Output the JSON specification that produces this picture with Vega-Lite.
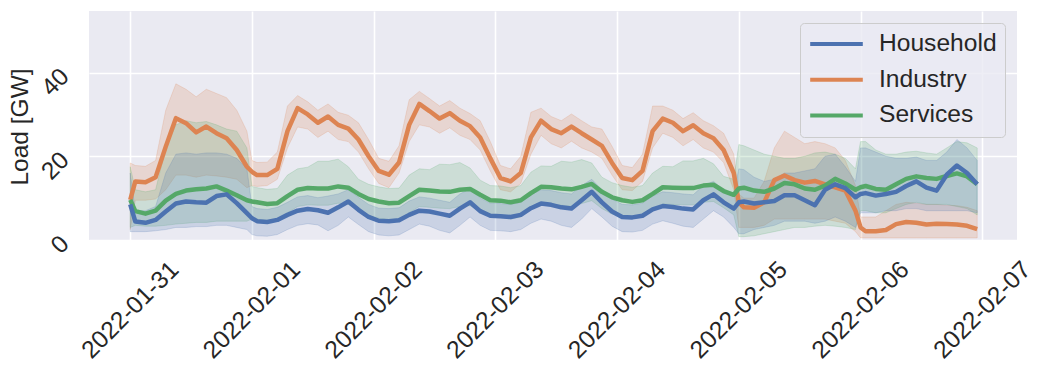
{
  "$schema": "https://vega.github.io/schema/vega-lite/v6.json",
  "width": 928,
  "height": 229,
  "autosize": {"type": "none"},
  "padding": {"left": 89, "top": 11, "right": 26, "bottom": 131},
  "background": "white",
  "config": {
    "view": {"fill": "#EAEAF2", "stroke": null},
    "font": "Liberation Sans",
    "axis": {
      "domain": false, "ticks": false, "grid": true, "gridColor": "#FFFFFF", "gridWidth": 1.6,
      "labelFont": "Liberation Sans", "labelFontSize": 24.5, "labelColor": "#262626",
      "titleFont": "Liberation Sans", "titleFontSize": 24.5, "titleColor": "#262626", "titleFontWeight": "normal"
    },
    "legend": {"labelFont": "Liberation Sans", "labelFontSize": 24.6, "labelColor": "#262626"}
  },
  "data": {"values": [
    {"t":"2022-01-31T00:00","s":"Industry","v":9.6,"lo":2.5,"hi":18.4},
    {"t":"2022-01-31T01:00","s":"Industry","v":14.0,"lo":9.5,"hi":17.8},
    {"t":"2022-01-31T03:00","s":"Industry","v":13.8,"lo":9.5,"hi":17.6},
    {"t":"2022-01-31T05:00","s":"Industry","v":15.0,"lo":9.8,"hi":19.0},
    {"t":"2022-01-31T07:00","s":"Industry","v":22.3,"lo":12.0,"hi":31.0},
    {"t":"2022-01-31T09:00","s":"Industry","v":29.1,"lo":15.5,"hi":37.3},
    {"t":"2022-01-31T11:00","s":"Industry","v":27.9,"lo":15.5,"hi":36.0},
    {"t":"2022-01-31T13:00","s":"Industry","v":25.7,"lo":15.0,"hi":34.2},
    {"t":"2022-01-31T15:00","s":"Industry","v":27.1,"lo":15.5,"hi":36.0},
    {"t":"2022-01-31T17:00","s":"Industry","v":25.5,"lo":15.3,"hi":35.0},
    {"t":"2022-01-31T19:00","s":"Industry","v":24.3,"lo":15.0,"hi":34.0},
    {"t":"2022-01-31T21:00","s":"Industry","v":21.5,"lo":14.5,"hi":31.0},
    {"t":"2022-01-31T23:00","s":"Industry","v":17.5,"lo":12.5,"hi":26.0},
    {"t":"2022-02-01T00:00","s":"Industry","v":16.3,"lo":13.0,"hi":19.0},
    {"t":"2022-02-01T01:00","s":"Industry","v":15.5,"lo":12.8,"hi":18.5},
    {"t":"2022-02-01T03:00","s":"Industry","v":15.5,"lo":13.0,"hi":18.6},
    {"t":"2022-02-01T05:00","s":"Industry","v":17.0,"lo":14.5,"hi":21.0},
    {"t":"2022-02-01T07:00","s":"Industry","v":26.0,"lo":22.0,"hi":32.0},
    {"t":"2022-02-01T09:00","s":"Industry","v":31.5,"lo":27.0,"hi":34.5},
    {"t":"2022-02-01T11:00","s":"Industry","v":30.0,"lo":26.5,"hi":33.0},
    {"t":"2022-02-01T13:00","s":"Industry","v":28.0,"lo":24.5,"hi":31.0},
    {"t":"2022-02-01T15:00","s":"Industry","v":29.5,"lo":26.0,"hi":32.5},
    {"t":"2022-02-01T17:00","s":"Industry","v":27.5,"lo":24.0,"hi":30.5},
    {"t":"2022-02-01T19:00","s":"Industry","v":26.6,"lo":23.5,"hi":29.8},
    {"t":"2022-02-01T21:00","s":"Industry","v":24.0,"lo":21.0,"hi":28.0},
    {"t":"2022-02-01T23:00","s":"Industry","v":20.0,"lo":17.0,"hi":24.0},
    {"t":"2022-02-02T01:00","s":"Industry","v":16.5,"lo":13.5,"hi":19.5},
    {"t":"2022-02-02T03:00","s":"Industry","v":15.6,"lo":12.5,"hi":18.8},
    {"t":"2022-02-02T05:00","s":"Industry","v":18.5,"lo":16.0,"hi":22.5},
    {"t":"2022-02-02T07:00","s":"Industry","v":27.5,"lo":23.5,"hi":33.5},
    {"t":"2022-02-02T09:00","s":"Industry","v":32.5,"lo":27.5,"hi":35.5},
    {"t":"2022-02-02T11:00","s":"Industry","v":30.8,"lo":27.0,"hi":33.8},
    {"t":"2022-02-02T13:00","s":"Industry","v":29.0,"lo":25.5,"hi":32.0},
    {"t":"2022-02-02T15:00","s":"Industry","v":30.3,"lo":26.8,"hi":33.3},
    {"t":"2022-02-02T17:00","s":"Industry","v":28.5,"lo":25.0,"hi":31.5},
    {"t":"2022-02-02T19:00","s":"Industry","v":27.2,"lo":24.0,"hi":30.2},
    {"t":"2022-02-02T21:00","s":"Industry","v":24.5,"lo":21.5,"hi":28.5},
    {"t":"2022-02-02T23:00","s":"Industry","v":19.5,"lo":16.5,"hi":23.5},
    {"t":"2022-02-03T01:00","s":"Industry","v":14.8,"lo":12.0,"hi":17.8},
    {"t":"2022-02-03T03:00","s":"Industry","v":14.0,"lo":11.5,"hi":17.0},
    {"t":"2022-02-03T05:00","s":"Industry","v":16.0,"lo":13.5,"hi":20.0},
    {"t":"2022-02-03T07:00","s":"Industry","v":24.5,"lo":20.5,"hi":30.5},
    {"t":"2022-02-03T09:00","s":"Industry","v":28.5,"lo":25.0,"hi":31.5},
    {"t":"2022-02-03T11:00","s":"Industry","v":26.5,"lo":23.0,"hi":29.5},
    {"t":"2022-02-03T13:00","s":"Industry","v":25.5,"lo":22.0,"hi":28.5},
    {"t":"2022-02-03T15:00","s":"Industry","v":27.1,"lo":23.6,"hi":30.1},
    {"t":"2022-02-03T17:00","s":"Industry","v":25.5,"lo":22.0,"hi":28.5},
    {"t":"2022-02-03T19:00","s":"Industry","v":24.0,"lo":21.0,"hi":27.0},
    {"t":"2022-02-03T21:00","s":"Industry","v":22.5,"lo":19.5,"hi":26.5},
    {"t":"2022-02-03T23:00","s":"Industry","v":18.4,"lo":15.5,"hi":22.4},
    {"t":"2022-02-04T01:00","s":"Industry","v":14.8,"lo":12.0,"hi":17.8},
    {"t":"2022-02-04T03:00","s":"Industry","v":14.3,"lo":11.8,"hi":17.3},
    {"t":"2022-02-04T05:00","s":"Industry","v":16.5,"lo":14.0,"hi":20.5},
    {"t":"2022-02-04T07:00","s":"Industry","v":26.0,"lo":22.0,"hi":32.0},
    {"t":"2022-02-04T09:00","s":"Industry","v":29.0,"lo":25.5,"hi":32.0},
    {"t":"2022-02-04T11:00","s":"Industry","v":28.0,"lo":24.5,"hi":31.0},
    {"t":"2022-02-04T13:00","s":"Industry","v":26.0,"lo":22.5,"hi":29.0},
    {"t":"2022-02-04T15:00","s":"Industry","v":27.4,"lo":24.0,"hi":30.4},
    {"t":"2022-02-04T17:00","s":"Industry","v":25.5,"lo":22.0,"hi":28.5},
    {"t":"2022-02-04T19:00","s":"Industry","v":24.3,"lo":21.0,"hi":27.3},
    {"t":"2022-02-04T21:00","s":"Industry","v":21.5,"lo":18.5,"hi":25.5},
    {"t":"2022-02-04T23:00","s":"Industry","v":16.0,"lo":12.0,"hi":20.5},
    {"t":"2022-02-05T00:00","s":"Industry","v":9.0,"lo":3.0,"hi":11.0},
    {"t":"2022-02-05T01:00","s":"Industry","v":7.8,"lo":3.0,"hi":10.0},
    {"t":"2022-02-05T03:00","s":"Industry","v":7.7,"lo":3.0,"hi":10.0},
    {"t":"2022-02-05T05:00","s":"Industry","v":9.0,"lo":3.5,"hi":14.0},
    {"t":"2022-02-05T07:00","s":"Industry","v":14.3,"lo":5.0,"hi":22.0},
    {"t":"2022-02-05T09:00","s":"Industry","v":15.4,"lo":5.0,"hi":26.0},
    {"t":"2022-02-05T11:00","s":"Industry","v":14.3,"lo":5.0,"hi":24.5},
    {"t":"2022-02-05T13:00","s":"Industry","v":13.7,"lo":5.0,"hi":23.0},
    {"t":"2022-02-05T15:00","s":"Industry","v":14.1,"lo":5.0,"hi":23.5},
    {"t":"2022-02-05T17:00","s":"Industry","v":13.3,"lo":5.0,"hi":23.0},
    {"t":"2022-02-05T19:00","s":"Industry","v":12.6,"lo":4.5,"hi":22.0},
    {"t":"2022-02-05T21:00","s":"Industry","v":11.8,"lo":4.0,"hi":19.0},
    {"t":"2022-02-05T23:00","s":"Industry","v":7.0,"lo":2.0,"hi":13.0},
    {"t":"2022-02-06T00:00","s":"Industry","v":3.0,"lo":0.5,"hi":5.5},
    {"t":"2022-02-06T01:00","s":"Industry","v":2.1,"lo":0.5,"hi":5.5},
    {"t":"2022-02-06T03:00","s":"Industry","v":2.1,"lo":0.5,"hi":5.5},
    {"t":"2022-02-06T05:00","s":"Industry","v":2.4,"lo":0.5,"hi":7.0},
    {"t":"2022-02-06T07:00","s":"Industry","v":3.8,"lo":0.5,"hi":8.5},
    {"t":"2022-02-06T09:00","s":"Industry","v":4.3,"lo":0.5,"hi":9.0},
    {"t":"2022-02-06T11:00","s":"Industry","v":4.1,"lo":0.5,"hi":8.8},
    {"t":"2022-02-06T13:00","s":"Industry","v":3.7,"lo":0.5,"hi":8.5},
    {"t":"2022-02-06T15:00","s":"Industry","v":3.9,"lo":0.5,"hi":8.5},
    {"t":"2022-02-06T17:00","s":"Industry","v":3.8,"lo":0.5,"hi":8.3},
    {"t":"2022-02-06T19:00","s":"Industry","v":3.7,"lo":0.5,"hi":8.2},
    {"t":"2022-02-06T21:00","s":"Industry","v":3.4,"lo":0.5,"hi":7.8},
    {"t":"2022-02-06T23:00","s":"Industry","v":2.6,"lo":0.5,"hi":7.0},

    {"t":"2022-01-31T00:00","s":"Services","v":9.6,"lo":3.0,"hi":17.5},
    {"t":"2022-01-31T01:00","s":"Services","v":6.9,"lo":3.5,"hi":12.0},
    {"t":"2022-01-31T03:00","s":"Services","v":6.3,"lo":3.3,"hi":11.5},
    {"t":"2022-01-31T05:00","s":"Services","v":7.0,"lo":3.3,"hi":12.0},
    {"t":"2022-01-31T07:00","s":"Services","v":9.4,"lo":3.5,"hi":22.0},
    {"t":"2022-01-31T09:00","s":"Services","v":11.0,"lo":3.8,"hi":27.5},
    {"t":"2022-01-31T11:00","s":"Services","v":11.8,"lo":4.0,"hi":28.5},
    {"t":"2022-01-31T13:00","s":"Services","v":12.1,"lo":4.2,"hi":28.0},
    {"t":"2022-01-31T15:00","s":"Services","v":12.3,"lo":4.2,"hi":28.3},
    {"t":"2022-01-31T17:00","s":"Services","v":12.8,"lo":4.5,"hi":27.5},
    {"t":"2022-01-31T19:00","s":"Services","v":11.8,"lo":4.5,"hi":26.5},
    {"t":"2022-01-31T21:00","s":"Services","v":10.7,"lo":4.5,"hi":26.0},
    {"t":"2022-01-31T23:00","s":"Services","v":9.5,"lo":4.5,"hi":22.0},
    {"t":"2022-02-01T00:00","s":"Services","v":9.2,"lo":5.0,"hi":12.8},
    {"t":"2022-02-01T01:00","s":"Services","v":9.0,"lo":5.0,"hi":12.5},
    {"t":"2022-02-01T03:00","s":"Services","v":8.6,"lo":4.6,"hi":12.1},
    {"t":"2022-02-01T05:00","s":"Services","v":8.8,"lo":4.8,"hi":12.3},
    {"t":"2022-02-01T07:00","s":"Services","v":10.5,"lo":6.5,"hi":15.5},
    {"t":"2022-02-01T09:00","s":"Services","v":12.0,"lo":8.0,"hi":17.0},
    {"t":"2022-02-01T11:00","s":"Services","v":12.4,"lo":8.4,"hi":17.4},
    {"t":"2022-02-01T13:00","s":"Services","v":12.3,"lo":8.3,"hi":18.8},
    {"t":"2022-02-01T15:00","s":"Services","v":12.3,"lo":8.3,"hi":18.8},
    {"t":"2022-02-01T17:00","s":"Services","v":12.8,"lo":8.8,"hi":19.3},
    {"t":"2022-02-01T19:00","s":"Services","v":12.5,"lo":8.5,"hi":17.5},
    {"t":"2022-02-01T21:00","s":"Services","v":11.0,"lo":7.0,"hi":14.5},
    {"t":"2022-02-01T23:00","s":"Services","v":9.8,"lo":5.8,"hi":13.3},
    {"t":"2022-02-02T01:00","s":"Services","v":9.2,"lo":5.2,"hi":12.7},
    {"t":"2022-02-02T03:00","s":"Services","v":8.8,"lo":4.8,"hi":12.3},
    {"t":"2022-02-02T05:00","s":"Services","v":8.9,"lo":4.9,"hi":12.4},
    {"t":"2022-02-02T07:00","s":"Services","v":10.5,"lo":6.5,"hi":15.5},
    {"t":"2022-02-02T09:00","s":"Services","v":12.0,"lo":8.0,"hi":17.0},
    {"t":"2022-02-02T11:00","s":"Services","v":11.8,"lo":7.8,"hi":16.8},
    {"t":"2022-02-02T13:00","s":"Services","v":11.6,"lo":7.6,"hi":18.1},
    {"t":"2022-02-02T15:00","s":"Services","v":11.5,"lo":7.5,"hi":18.0},
    {"t":"2022-02-02T17:00","s":"Services","v":12.0,"lo":8.0,"hi":18.5},
    {"t":"2022-02-02T19:00","s":"Services","v":12.2,"lo":8.2,"hi":17.2},
    {"t":"2022-02-02T21:00","s":"Services","v":10.8,"lo":6.8,"hi":14.3},
    {"t":"2022-02-02T23:00","s":"Services","v":9.5,"lo":5.5,"hi":13.0},
    {"t":"2022-02-03T01:00","s":"Services","v":9.4,"lo":5.4,"hi":12.9},
    {"t":"2022-02-03T03:00","s":"Services","v":9.0,"lo":5.0,"hi":12.5},
    {"t":"2022-02-03T05:00","s":"Services","v":9.5,"lo":5.5,"hi":13.0},
    {"t":"2022-02-03T07:00","s":"Services","v":11.2,"lo":7.2,"hi":16.2},
    {"t":"2022-02-03T09:00","s":"Services","v":12.7,"lo":8.7,"hi":17.7},
    {"t":"2022-02-03T11:00","s":"Services","v":12.6,"lo":8.6,"hi":17.6},
    {"t":"2022-02-03T13:00","s":"Services","v":12.3,"lo":8.3,"hi":18.8},
    {"t":"2022-02-03T15:00","s":"Services","v":12.1,"lo":8.1,"hi":18.6},
    {"t":"2022-02-03T17:00","s":"Services","v":12.7,"lo":8.7,"hi":19.2},
    {"t":"2022-02-03T19:00","s":"Services","v":13.4,"lo":9.4,"hi":18.4},
    {"t":"2022-02-03T21:00","s":"Services","v":11.5,"lo":7.5,"hi":15.0},
    {"t":"2022-02-03T23:00","s":"Services","v":10.2,"lo":6.2,"hi":13.7},
    {"t":"2022-02-04T01:00","s":"Services","v":9.5,"lo":5.5,"hi":13.0},
    {"t":"2022-02-04T03:00","s":"Services","v":9.1,"lo":5.1,"hi":12.6},
    {"t":"2022-02-04T05:00","s":"Services","v":9.5,"lo":5.5,"hi":13.0},
    {"t":"2022-02-04T07:00","s":"Services","v":11.0,"lo":7.0,"hi":16.0},
    {"t":"2022-02-04T09:00","s":"Services","v":12.6,"lo":8.6,"hi":17.6},
    {"t":"2022-02-04T11:00","s":"Services","v":12.5,"lo":8.5,"hi":17.5},
    {"t":"2022-02-04T13:00","s":"Services","v":12.4,"lo":8.4,"hi":18.9},
    {"t":"2022-02-04T15:00","s":"Services","v":12.4,"lo":8.4,"hi":18.9},
    {"t":"2022-02-04T17:00","s":"Services","v":13.0,"lo":9.0,"hi":19.5},
    {"t":"2022-02-04T19:00","s":"Services","v":13.2,"lo":9.2,"hi":18.2},
    {"t":"2022-02-04T21:00","s":"Services","v":11.7,"lo":7.7,"hi":15.2},
    {"t":"2022-02-04T23:00","s":"Services","v":10.8,"lo":6.0,"hi":14.5},
    {"t":"2022-02-05T00:00","s":"Services","v":12.3,"lo":0.8,"hi":22.8},
    {"t":"2022-02-05T01:00","s":"Services","v":12.5,"lo":0.8,"hi":22.5},
    {"t":"2022-02-05T03:00","s":"Services","v":11.8,"lo":1.0,"hi":21.5},
    {"t":"2022-02-05T05:00","s":"Services","v":11.5,"lo":1.5,"hi":20.5},
    {"t":"2022-02-05T07:00","s":"Services","v":12.3,"lo":2.0,"hi":20.0},
    {"t":"2022-02-05T09:00","s":"Services","v":13.6,"lo":2.5,"hi":19.5},
    {"t":"2022-02-05T11:00","s":"Services","v":13.3,"lo":3.0,"hi":19.5},
    {"t":"2022-02-05T13:00","s":"Services","v":12.3,"lo":3.0,"hi":20.0},
    {"t":"2022-02-05T15:00","s":"Services","v":12.0,"lo":3.3,"hi":20.8},
    {"t":"2022-02-05T17:00","s":"Services","v":13.0,"lo":3.5,"hi":21.0},
    {"t":"2022-02-05T19:00","s":"Services","v":14.6,"lo":3.3,"hi":20.5},
    {"t":"2022-02-05T21:00","s":"Services","v":13.5,"lo":3.0,"hi":19.5},
    {"t":"2022-02-05T23:00","s":"Services","v":12.0,"lo":2.5,"hi":17.0},
    {"t":"2022-02-06T00:00","s":"Services","v":12.6,"lo":7.0,"hi":23.5},
    {"t":"2022-02-06T01:00","s":"Services","v":12.9,"lo":7.0,"hi":23.5},
    {"t":"2022-02-06T03:00","s":"Services","v":12.2,"lo":6.5,"hi":21.5},
    {"t":"2022-02-06T05:00","s":"Services","v":12.0,"lo":6.5,"hi":20.5},
    {"t":"2022-02-06T07:00","s":"Services","v":13.3,"lo":7.5,"hi":20.5},
    {"t":"2022-02-06T09:00","s":"Services","v":14.6,"lo":8.5,"hi":21.0},
    {"t":"2022-02-06T11:00","s":"Services","v":15.2,"lo":9.0,"hi":21.2},
    {"t":"2022-02-06T13:00","s":"Services","v":14.8,"lo":8.5,"hi":20.8},
    {"t":"2022-02-06T15:00","s":"Services","v":14.6,"lo":8.5,"hi":20.5},
    {"t":"2022-02-06T17:00","s":"Services","v":15.3,"lo":8.5,"hi":22.0},
    {"t":"2022-02-06T19:00","s":"Services","v":15.9,"lo":8.0,"hi":23.5},
    {"t":"2022-02-06T21:00","s":"Services","v":15.2,"lo":7.5,"hi":23.2},
    {"t":"2022-02-06T23:00","s":"Services","v":13.3,"lo":6.0,"hi":22.0},

    {"t":"2022-01-31T00:00","s":"Household","v":8.5,"lo":2.0,"hi":16.0},
    {"t":"2022-01-31T01:00","s":"Household","v":4.4,"lo":2.0,"hi":7.0},
    {"t":"2022-01-31T03:00","s":"Household","v":4.1,"lo":2.0,"hi":7.0},
    {"t":"2022-01-31T05:00","s":"Household","v":4.8,"lo":2.2,"hi":8.0},
    {"t":"2022-01-31T07:00","s":"Household","v":6.8,"lo":2.5,"hi":16.0},
    {"t":"2022-01-31T09:00","s":"Household","v":8.7,"lo":3.0,"hi":20.5},
    {"t":"2022-01-31T11:00","s":"Household","v":9.2,"lo":3.0,"hi":20.8},
    {"t":"2022-01-31T13:00","s":"Household","v":9.0,"lo":3.2,"hi":20.5},
    {"t":"2022-01-31T15:00","s":"Household","v":8.9,"lo":3.2,"hi":20.8},
    {"t":"2022-01-31T17:00","s":"Household","v":10.5,"lo":3.5,"hi":20.8},
    {"t":"2022-01-31T19:00","s":"Household","v":10.9,"lo":3.5,"hi":20.5},
    {"t":"2022-01-31T21:00","s":"Household","v":8.8,"lo":3.0,"hi":19.5},
    {"t":"2022-01-31T23:00","s":"Household","v":6.4,"lo":2.5,"hi":17.0},
    {"t":"2022-02-01T00:00","s":"Household","v":5.2,"lo":1.3,"hi":8.0},
    {"t":"2022-02-01T01:00","s":"Household","v":4.5,"lo":1.0,"hi":7.5},
    {"t":"2022-02-01T03:00","s":"Household","v":4.3,"lo":0.9,"hi":7.3},
    {"t":"2022-02-01T05:00","s":"Household","v":4.8,"lo":1.3,"hi":7.8},
    {"t":"2022-02-01T07:00","s":"Household","v":6.0,"lo":2.5,"hi":9.0},
    {"t":"2022-02-01T09:00","s":"Household","v":7.0,"lo":3.5,"hi":10.3},
    {"t":"2022-02-01T11:00","s":"Household","v":7.4,"lo":3.9,"hi":10.6},
    {"t":"2022-02-01T13:00","s":"Household","v":7.1,"lo":3.6,"hi":10.1},
    {"t":"2022-02-01T15:00","s":"Household","v":6.5,"lo":2.2,"hi":10.5},
    {"t":"2022-02-01T17:00","s":"Household","v":7.8,"lo":3.5,"hi":11.0},
    {"t":"2022-02-01T19:00","s":"Household","v":9.2,"lo":5.5,"hi":12.0},
    {"t":"2022-02-01T21:00","s":"Household","v":7.2,"lo":3.7,"hi":10.2},
    {"t":"2022-02-01T23:00","s":"Household","v":5.5,"lo":2.0,"hi":8.5},
    {"t":"2022-02-02T01:00","s":"Household","v":4.6,"lo":1.2,"hi":7.6},
    {"t":"2022-02-02T03:00","s":"Household","v":4.5,"lo":1.0,"hi":7.5},
    {"t":"2022-02-02T05:00","s":"Household","v":4.7,"lo":1.2,"hi":7.7},
    {"t":"2022-02-02T07:00","s":"Household","v":6.0,"lo":2.5,"hi":9.3},
    {"t":"2022-02-02T09:00","s":"Household","v":7.0,"lo":3.8,"hi":10.3},
    {"t":"2022-02-02T11:00","s":"Household","v":6.8,"lo":3.3,"hi":10.0},
    {"t":"2022-02-02T13:00","s":"Household","v":6.3,"lo":2.3,"hi":9.5},
    {"t":"2022-02-02T15:00","s":"Household","v":5.8,"lo":1.7,"hi":9.0},
    {"t":"2022-02-02T17:00","s":"Household","v":7.5,"lo":3.5,"hi":11.0},
    {"t":"2022-02-02T19:00","s":"Household","v":9.0,"lo":5.5,"hi":12.2},
    {"t":"2022-02-02T21:00","s":"Household","v":6.9,"lo":3.5,"hi":10.0},
    {"t":"2022-02-02T23:00","s":"Household","v":5.8,"lo":2.3,"hi":8.8},
    {"t":"2022-02-03T01:00","s":"Household","v":5.7,"lo":2.2,"hi":8.7},
    {"t":"2022-02-03T03:00","s":"Household","v":5.5,"lo":2.0,"hi":8.5},
    {"t":"2022-02-03T05:00","s":"Household","v":6.0,"lo":2.5,"hi":9.0},
    {"t":"2022-02-03T07:00","s":"Household","v":7.6,"lo":4.0,"hi":10.8},
    {"t":"2022-02-03T09:00","s":"Household","v":8.7,"lo":5.0,"hi":12.0},
    {"t":"2022-02-03T11:00","s":"Household","v":8.4,"lo":4.5,"hi":11.8},
    {"t":"2022-02-03T13:00","s":"Household","v":7.8,"lo":3.5,"hi":11.3},
    {"t":"2022-02-03T15:00","s":"Household","v":7.5,"lo":3.0,"hi":11.0},
    {"t":"2022-02-03T17:00","s":"Household","v":9.5,"lo":5.0,"hi":13.0},
    {"t":"2022-02-03T19:00","s":"Household","v":11.5,"lo":7.5,"hi":14.5},
    {"t":"2022-02-03T21:00","s":"Household","v":9.0,"lo":5.5,"hi":12.0},
    {"t":"2022-02-03T23:00","s":"Household","v":6.8,"lo":3.3,"hi":9.8},
    {"t":"2022-02-04T01:00","s":"Household","v":5.5,"lo":2.0,"hi":8.5},
    {"t":"2022-02-04T03:00","s":"Household","v":5.4,"lo":1.9,"hi":8.4},
    {"t":"2022-02-04T05:00","s":"Household","v":5.8,"lo":2.3,"hi":8.8},
    {"t":"2022-02-04T07:00","s":"Household","v":7.3,"lo":3.8,"hi":10.5},
    {"t":"2022-02-04T09:00","s":"Household","v":8.1,"lo":4.6,"hi":11.5},
    {"t":"2022-02-04T11:00","s":"Household","v":7.9,"lo":4.0,"hi":11.3},
    {"t":"2022-02-04T13:00","s":"Household","v":7.5,"lo":3.3,"hi":11.0},
    {"t":"2022-02-04T15:00","s":"Household","v":7.3,"lo":3.0,"hi":10.8},
    {"t":"2022-02-04T17:00","s":"Household","v":9.5,"lo":5.0,"hi":13.0},
    {"t":"2022-02-04T19:00","s":"Household","v":10.9,"lo":7.0,"hi":14.0},
    {"t":"2022-02-04T21:00","s":"Household","v":9.0,"lo":5.5,"hi":12.0},
    {"t":"2022-02-04T23:00","s":"Household","v":7.5,"lo":3.0,"hi":11.0},
    {"t":"2022-02-05T00:00","s":"Household","v":9.0,"lo":1.5,"hi":17.0},
    {"t":"2022-02-05T01:00","s":"Household","v":9.2,"lo":1.5,"hi":16.8},
    {"t":"2022-02-05T03:00","s":"Household","v":8.7,"lo":2.5,"hi":15.0},
    {"t":"2022-02-05T05:00","s":"Household","v":9.0,"lo":3.0,"hi":14.0},
    {"t":"2022-02-05T07:00","s":"Household","v":9.3,"lo":3.5,"hi":14.5},
    {"t":"2022-02-05T09:00","s":"Household","v":10.7,"lo":4.5,"hi":16.0},
    {"t":"2022-02-05T11:00","s":"Household","v":10.7,"lo":4.5,"hi":16.0},
    {"t":"2022-02-05T13:00","s":"Household","v":9.5,"lo":4.5,"hi":16.5},
    {"t":"2022-02-05T15:00","s":"Household","v":8.3,"lo":4.0,"hi":17.0},
    {"t":"2022-02-05T17:00","s":"Household","v":12.0,"lo":4.5,"hi":20.0},
    {"t":"2022-02-05T19:00","s":"Household","v":13.3,"lo":5.5,"hi":20.5},
    {"t":"2022-02-05T21:00","s":"Household","v":12.4,"lo":4.5,"hi":17.5},
    {"t":"2022-02-05T23:00","s":"Household","v":10.2,"lo":3.0,"hi":14.0},
    {"t":"2022-02-06T00:00","s":"Household","v":11.0,"lo":6.5,"hi":22.0},
    {"t":"2022-02-06T01:00","s":"Household","v":11.2,"lo":6.5,"hi":22.0},
    {"t":"2022-02-06T03:00","s":"Household","v":10.6,"lo":6.5,"hi":21.0},
    {"t":"2022-02-06T05:00","s":"Household","v":11.0,"lo":7.0,"hi":20.0},
    {"t":"2022-02-06T07:00","s":"Household","v":11.5,"lo":7.0,"hi":19.5},
    {"t":"2022-02-06T09:00","s":"Household","v":12.9,"lo":7.5,"hi":19.5},
    {"t":"2022-02-06T11:00","s":"Household","v":14.0,"lo":7.5,"hi":19.8},
    {"t":"2022-02-06T13:00","s":"Household","v":12.5,"lo":7.0,"hi":19.0},
    {"t":"2022-02-06T15:00","s":"Household","v":11.8,"lo":7.0,"hi":19.0},
    {"t":"2022-02-06T17:00","s":"Household","v":15.6,"lo":7.0,"hi":21.0},
    {"t":"2022-02-06T19:00","s":"Household","v":17.8,"lo":7.0,"hi":24.0},
    {"t":"2022-02-06T21:00","s":"Household","v":16.0,"lo":7.0,"hi":22.0},
    {"t":"2022-02-06T23:00","s":"Household","v":13.3,"lo":6.5,"hi":19.0}
  ]},
  "encoding": {
    "x": {
      "field": "t", "type": "temporal",
      "scale": {"domain": [{"year": 2022, "month": 1, "date": 30, "hours": 15, "minutes": 52}, {"year": 2022, "month": 2, "date": 7, "hours": 6, "minutes": 51}]},
      "axis": {"title": null, "format": "%Y-%m-%d", "tickCount": {"interval": "day", "step": 1},
               "labelAngle": -45, "labelAlign": "center", "labelBaseline": "middle", "labelPadding": 70, "labelOverlap": false, "labelFlush": false}
    }
  },
  "layer": [
    {
      "mark": {"type": "area", "fillOpacity": 0.2, "strokeOpacity": 0.2, "strokeWidth": 1},
      "encoding": {
        "y": {"field": "lo", "type": "quantitative",
              "scale": {"domain": [0, 54.7], "nice": false, "zero": false},
              "axis": {"title": "Load [GW]", "values": [0, 20, 40], "labelAngle": -45, "labelAlign": "right", "labelBaseline": "middle", "labelPadding": 24,
                       "titleX": -68.5, "titleY": 115.5, "titleAngle": -90, "titleAlign": "center", "titleBaseline": "middle"}},
        "y2": {"field": "hi"},
        "color": {"field": "s", "type": "nominal",
                  "scale": {"domain": ["Household", "Industry", "Services"], "range": ["#4C72B0", "#DD8452", "#55A868"]},
                  "legend": {"title": null, "orient": "top-right", "offset": 12, "symbolType": "stroke", "symbolSize": 2767,
                             "symbolStrokeWidth": 4, "symbolOpacity": 1, "symbolFillOpacity": 1, "clipHeight": 26, "rowPadding": 9.7, "labelOffset": 14,
                             "padding": 8, "fillColor": "rgba(234,234,242,0.8)", "strokeColor": "#CCCCCC", "cornerRadius": 4, "labelLimit": 400}},
        "stroke": {"field": "s", "type": "nominal",
                   "scale": {"domain": ["Household", "Industry", "Services"], "range": ["#4C72B0", "#DD8452", "#55A868"]},
                   "legend": null}
      }
    },
    {
      "mark": {"type": "line", "strokeWidth": 4.5, "strokeJoin": "round"},
      "encoding": {
        "y": {"field": "v", "type": "quantitative"},
        "color": {"field": "s", "type": "nominal"}
      }
    }
  ]
}
